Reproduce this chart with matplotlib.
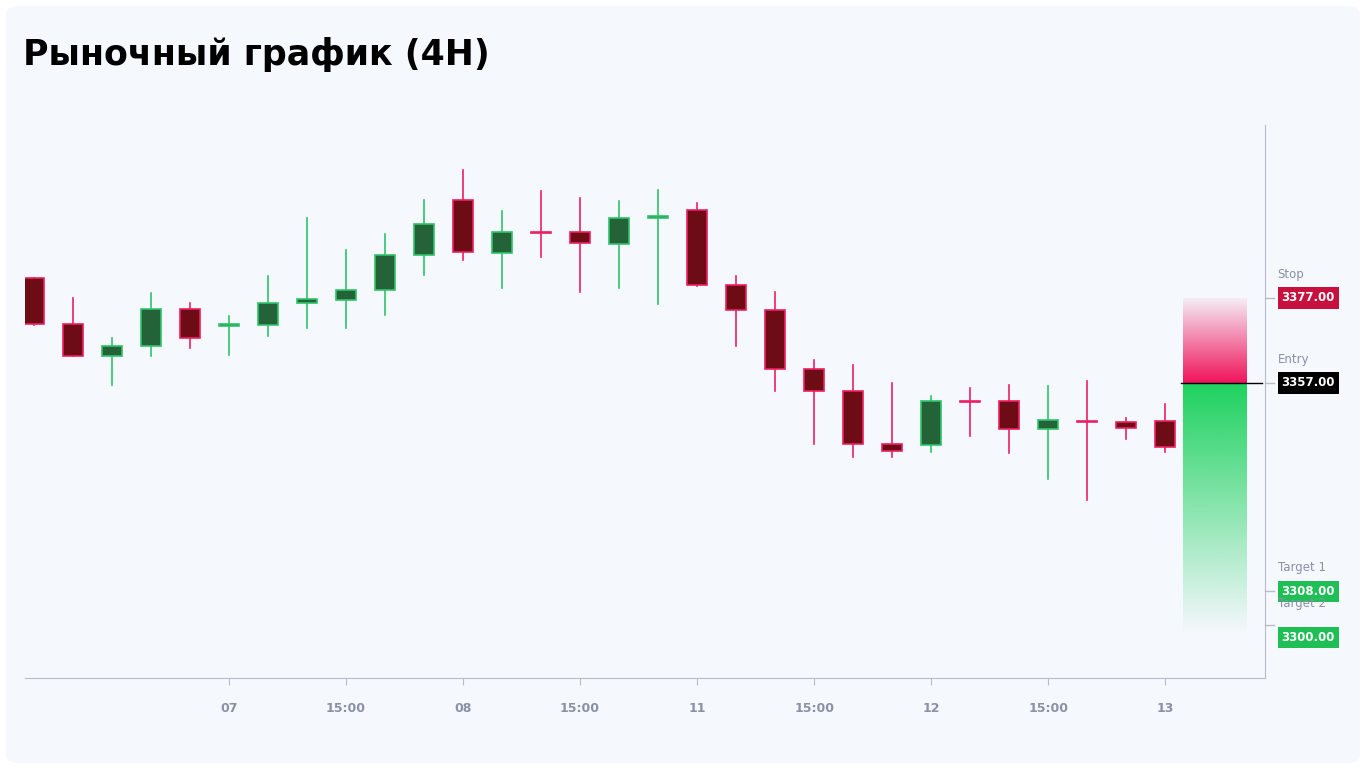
import matplotlib
matplotlib.use("Agg")
import matplotlib.pyplot as plt
import numpy as np
from matplotlib.patches import FancyBboxPatch, Rectangle

# pixel-read OHLC converted to price
def px(y): return 3357 - (y - 383) / 4.25
opens_px  = [278,324,356,346,309,326,325,303,300,290,255,200,253,232,232,244,218,210,285,310,369,391,444,445,401,401,429,421,422,421]
closes_px = [324,356,346,309,338,324,303,299,290,255,224,252,232,233,243,218,216,285,310,369,391,444,451,401,402,429,420,422,428,447]
highs_px  = [278,298,338,293,303,316,276,218,250,234,200,170,211,191,198,201,190,203,276,292,360,365,383,396,388,385,386,381,418,404]
lows_px   = [325,356,385,356,348,355,336,328,328,315,275,260,288,257,292,288,304,286,346,391,444,457,457,452,436,453,479,500,439,452]
opens = [round(px(v), 1) for v in opens_px]
closes = [round(px(v), 1) for v in closes_px]
highs = [round(px(v), 1) for v in highs_px]
lows = [round(px(v), 1) for v in lows_px]
tick_pos = [5, 8, 11, 14, 17, 20, 23, 26, 29]
tick_labels = ["07", "15:00", "08", "15:00", "11", "15:00", "12", "15:00", "13"]
levels = [("Stop", 3377.0, "#c8103e"), ("Entry", 3357.0, "#000000"),
          ("Target 1", 3308.0, "#1fbf55"), ("Target 2", 3300.0, "#1fbf55")]

fig = plt.figure(figsize=(13.66, 7.69), dpi=100)
fig.patch.set_facecolor("white")
fig.patches.append(FancyBboxPatch((6/1366, 6/769), 1354/1366, 757/769,
    boxstyle="round,pad=0,rounding_size=0.01", transform=fig.transFigure,
    facecolor="#f5f8fd", edgecolor="none", zorder=-10))
fig.text(23/1366, 1-55/769, "Рыночный график (4H)", fontsize=25, fontweight="bold",
         va="center", ha="left", family="DejaVu Sans")

ax = fig.add_axes([25/1366, 1-678/769, (1265-25)/1366, (678-125)/769])
ax.set_facecolor("none")
ymax, ymin = px(125), px(678)
ax.set_ylim(ymin, ymax)
ax.set_xlim(-0.23, 31.56)

w = 0.52
for i, (o, c, h, l) in enumerate(zip(opens, closes, highs, lows)):
    up = c >= o
    edge = "#2fc46a" if up else "#ee1f61"
    face = "#246338" if up else "#6e0c16"
    ax.plot([i, i], [l, h], color=edge, lw=1.2, zorder=2)
    b0, b1 = min(o, c), max(o, c)
    hgt = max(b1 - b0, 0.25)
    ax.add_patch(Rectangle((i - w/2, b0), w, hgt, facecolor=face, edgecolor=edge, lw=1.2, zorder=3))

# risk/reward zone
x0, x1 = 29.46, 31.08
n = 100
red = np.zeros((n, 1, 4)); red[..., :3] = np.array([240, 19, 90]) / 255
red[:, 0, 3] = np.linspace(1, 0.05, n)
ax.imshow(red, extent=[x0, x1, 3357, 3377], origin="lower", aspect="auto", zorder=1)
grn = np.zeros((n, 1, 4)); grn[..., :3] = np.array([30, 210, 95]) / 255
grn[:, 0, 3] = np.linspace(0.0, 1, n)
ax.imshow(grn, extent=[x0, x1, 3298, 3357], origin="lower", aspect="auto", zorder=1)
ax.plot([x0 - 0.05, x1 + 0.4], [3357, 3357], color="black", lw=1, zorder=4)

for s in ["top", "left"]:
    ax.spines[s].set_visible(False)
for s in ["bottom", "right"]:
    ax.spines[s].set_color("#b8bcc8")
ax.yaxis.tick_right()
ax.set_yticks([3377, 3357, 3308, 3300])
ax.set_yticklabels([])
ax.tick_params(axis="y", length=0)
ax.set_xticks(tick_pos)
ax.set_xticklabels(tick_labels, color="#8a90a6", fontsize=9, fontweight="bold")
ax.tick_params(axis="x", length=5, color="#b8bcc8", pad=12)

for name, val, col in levels:
    yy = val if name != "Target 2" else 3300 - 2.1
    ax.annotate(f"{val:.2f}", xy=(1, val), xycoords=("axes fraction", "data"),
                xytext=(12, 0 if name != "Target 2" else -9), textcoords="offset points",
                va="center", ha="left", fontsize=8.5, fontweight="bold", color="white",
                bbox=dict(boxstyle="square,pad=0.35", fc=col, ec="none"))
    ax.annotate(name, xy=(1, val), xycoords=("axes fraction", "data"),
                xytext=(9, 17 if name != "Target 2" else 16), textcoords="offset points",
                va="center", ha="left", fontsize=8.5, color="#8a90a6")
    ax.plot([1, 1.007], [val, val], transform=ax.get_yaxis_transform(), color="#b8bcc8",
            lw=1, clip_on=False)

fig.savefig("out.png", dpi=100, facecolor=fig.get_facecolor())
